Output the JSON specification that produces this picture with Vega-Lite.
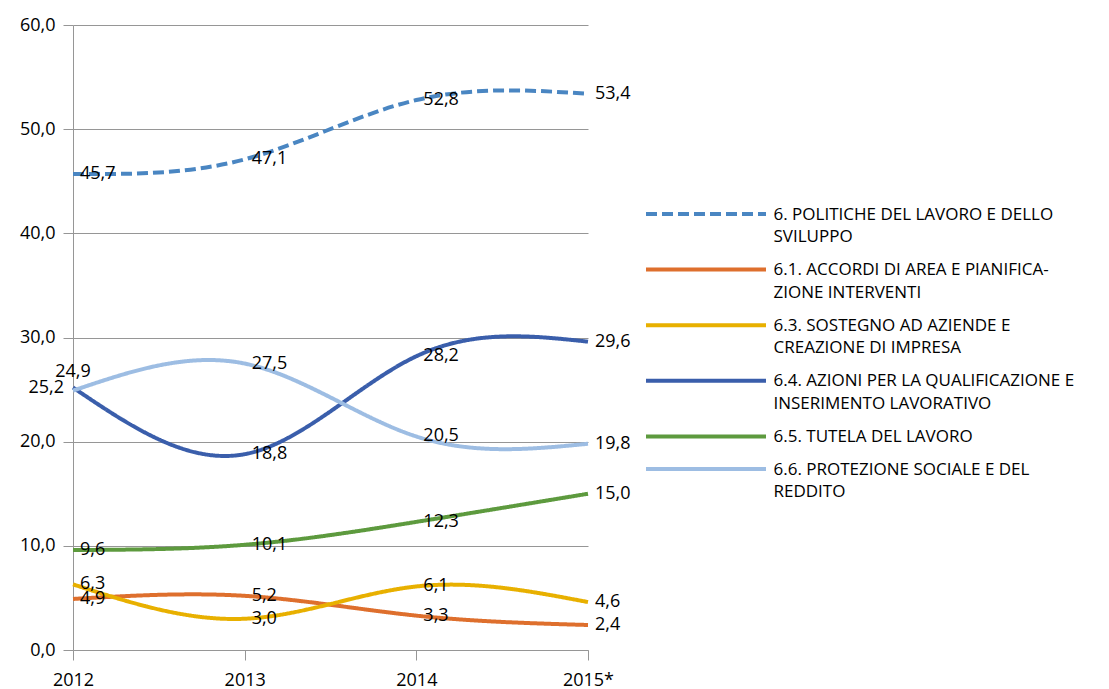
{
  "$schema": "https://vega.github.io/schema/vega-lite/v6.json",
  "width": 515,
  "height": 625,
  "autosize": {"type": "none"},
  "padding": {"left": 73, "top": 25, "right": 521, "bottom": 39},
  "background": "white",
  "config": {
    "view": {"stroke": null},
    "locale": {"number": {"decimal": ",", "thousands": ".", "grouping": [3], "currency": ["€", ""]}},
    "font": "Open Sans",
    "axis": {"labelFont": "Open Sans", "labelFontSize": 18, "labelColor": "#000000", "domainColor": "#969696", "tickColor": "#969696", "gridColor": "#969696", "title": null}
  },
  "data": {"values": [
    {"series": "6. POLITICHE DEL LAVORO E DELLO SVILUPPO", "year": "2012", "value": 45.7},
    {"series": "6. POLITICHE DEL LAVORO E DELLO SVILUPPO", "year": "2013", "value": 47.1},
    {"series": "6. POLITICHE DEL LAVORO E DELLO SVILUPPO", "year": "2014", "value": 52.8},
    {"series": "6. POLITICHE DEL LAVORO E DELLO SVILUPPO", "year": "2015*", "value": 53.4},
    {"series": "6.1. ACCORDI DI AREA E PIANIFICAZIONE INTERVENTI", "year": "2012", "value": 4.9},
    {"series": "6.1. ACCORDI DI AREA E PIANIFICAZIONE INTERVENTI", "year": "2013", "value": 5.2},
    {"series": "6.1. ACCORDI DI AREA E PIANIFICAZIONE INTERVENTI", "year": "2014", "value": 3.3},
    {"series": "6.1. ACCORDI DI AREA E PIANIFICAZIONE INTERVENTI", "year": "2015*", "value": 2.4},
    {"series": "6.3. SOSTEGNO AD AZIENDE E CREAZIONE DI IMPRESA", "year": "2012", "value": 6.3},
    {"series": "6.3. SOSTEGNO AD AZIENDE E CREAZIONE DI IMPRESA", "year": "2013", "value": 3.0},
    {"series": "6.3. SOSTEGNO AD AZIENDE E CREAZIONE DI IMPRESA", "year": "2014", "value": 6.1},
    {"series": "6.3. SOSTEGNO AD AZIENDE E CREAZIONE DI IMPRESA", "year": "2015*", "value": 4.6},
    {"series": "6.4. AZIONI PER LA QUALIFICAZIONE E INSERIMENTO LAVORATIVO", "year": "2012", "value": 25.2},
    {"series": "6.4. AZIONI PER LA QUALIFICAZIONE E INSERIMENTO LAVORATIVO", "year": "2013", "value": 18.8},
    {"series": "6.4. AZIONI PER LA QUALIFICAZIONE E INSERIMENTO LAVORATIVO", "year": "2014", "value": 28.2},
    {"series": "6.4. AZIONI PER LA QUALIFICAZIONE E INSERIMENTO LAVORATIVO", "year": "2015*", "value": 29.6},
    {"series": "6.5. TUTELA DEL LAVORO", "year": "2012", "value": 9.6},
    {"series": "6.5. TUTELA DEL LAVORO", "year": "2013", "value": 10.1},
    {"series": "6.5. TUTELA DEL LAVORO", "year": "2014", "value": 12.3},
    {"series": "6.5. TUTELA DEL LAVORO", "year": "2015*", "value": 15.0},
    {"series": "6.6. PROTEZIONE SOCIALE E DEL REDDITO", "year": "2012", "value": 24.9},
    {"series": "6.6. PROTEZIONE SOCIALE E DEL REDDITO", "year": "2013", "value": 27.5},
    {"series": "6.6. PROTEZIONE SOCIALE E DEL REDDITO", "year": "2014", "value": 20.5},
    {"series": "6.6. PROTEZIONE SOCIALE E DEL REDDITO", "year": "2015*", "value": 19.8}
  ]},
  "encoding": {
    "x": {"field": "year", "type": "ordinal", "scale": {"type": "point", "padding": 0},
      "axis": {"labelAngle": 0, "tickSize": 10, "labelPadding": 11, "grid": false}},
    "y": {"field": "value", "type": "quantitative", "scale": {"domain": [0, 60], "nice": false},
      "axis": {"values": [0, 10, 20, 30, 40, 50, 60], "format": ".1f", "tickSize": 10, "labelPadding": 8, "grid": true}}
  },
  "layer": [
    {
      "mark": {"type": "line", "strokeWidth": 4, "interpolate": "natural"},
      "encoding": {
        "color": {"field": "series", "type": "nominal",
          "scale": {
            "domain": ["6. POLITICHE DEL LAVORO E DELLO SVILUPPO", "6.1. ACCORDI DI AREA E PIANIFICAZIONE INTERVENTI", "6.3. SOSTEGNO AD AZIENDE E CREAZIONE DI IMPRESA", "6.4. AZIONI PER LA QUALIFICAZIONE E INSERIMENTO LAVORATIVO", "6.5. TUTELA DEL LAVORO", "6.6. PROTEZIONE SOCIALE E DEL REDDITO"],
            "range": ["#4A86C2", "#DE6F2D", "#E8B000", "#3A5EAB", "#5D9A3E", "#9DBDE3"]},
          "legend": {
            "orient": "none", "legendX": 573, "legendY": 173, "padding": 0,
            "title": null, "symbolType": "M-12,1.5H12", "symbolSize": 100, "symbolStrokeWidth": 4,
            "symbolOffset": 51.5, "labelOffset": 59, "labelBaseline": "top",
            "labelFont": "Open Sans", "labelFontSize": 17, "labelColor": "#000000", "labelLimit": 500,
            "rowPadding": 7.6,
            "labelExpr": "datum.label == '6. POLITICHE DEL LAVORO E DELLO SVILUPPO' ? ['6. POLITICHE DEL LAVORO E DELLO', 'SVILUPPO'] : datum.label == '6.1. ACCORDI DI AREA E PIANIFICAZIONE INTERVENTI' ? ['6.1. ACCORDI DI AREA E PIANIFICA-', 'ZIONE INTERVENTI'] : datum.label == '6.3. SOSTEGNO AD AZIENDE E CREAZIONE DI IMPRESA' ? ['6.3. SOSTEGNO AD AZIENDE E', 'CREAZIONE DI IMPRESA'] : datum.label == '6.4. AZIONI PER LA QUALIFICAZIONE E INSERIMENTO LAVORATIVO' ? ['6.4. AZIONI PER LA QUALIFICAZIONE E', 'INSERIMENTO LAVORATIVO'] : datum.label == '6.6. PROTEZIONE SOCIALE E DEL REDDITO' ? ['6.6. PROTEZIONE SOCIALE E DEL', 'REDDITO'] : datum.label",
            "encode": {"labels": {"update": {"lineHeight": {"value": 22.7}}}}
          }},
        "strokeDash": {"field": "series", "type": "nominal",
          "scale": {
            "domain": ["6. POLITICHE DEL LAVORO E DELLO SVILUPPO", "6.1. ACCORDI DI AREA E PIANIFICAZIONE INTERVENTI", "6.3. SOSTEGNO AD AZIENDE E CREAZIONE DI IMPRESA", "6.4. AZIONI PER LA QUALIFICAZIONE E INSERIMENTO LAVORATIVO", "6.5. TUTELA DEL LAVORO", "6.6. PROTEZIONE SOCIALE E DEL REDDITO"],
            "range": [[11, 5], [1, 0], [1, 0], [1, 0], [1, 0], [1, 0]]}}
      }
    },
    {
      "transform": [{"filter": "!(datum.year == '2012' && (datum.series == '6.4. AZIONI PER LA QUALIFICAZIONE E INSERIMENTO LAVORATIVO' || datum.series == '6.6. PROTEZIONE SOCIALE E DEL REDDITO'))"}],
      "mark": {"type": "text", "align": "left", "baseline": "middle", "dx": 7, "fontSize": 18, "font": "Open Sans", "color": "#000000"},
      "encoding": {"text": {"field": "value", "type": "quantitative", "format": ".1f"}}
    },
    {
      "transform": [{"filter": "datum.year == '2012' && datum.series == '6.4. AZIONI PER LA QUALIFICAZIONE E INSERIMENTO LAVORATIVO'"}],
      "mark": {"type": "text", "align": "right", "baseline": "middle", "dx": -9, "fontSize": 18, "font": "Open Sans", "color": "#000000"},
      "encoding": {"text": {"field": "value", "type": "quantitative", "format": ".1f"}}
    },
    {
      "transform": [{"filter": "datum.year == '2012' && datum.series == '6.6. PROTEZIONE SOCIALE E DEL REDDITO'"}],
      "mark": {"type": "text", "align": "center", "baseline": "middle", "dy": -19, "fontSize": 18, "font": "Open Sans", "color": "#000000"},
      "encoding": {"text": {"field": "value", "type": "quantitative", "format": ".1f"}}
    }
  ]
}
